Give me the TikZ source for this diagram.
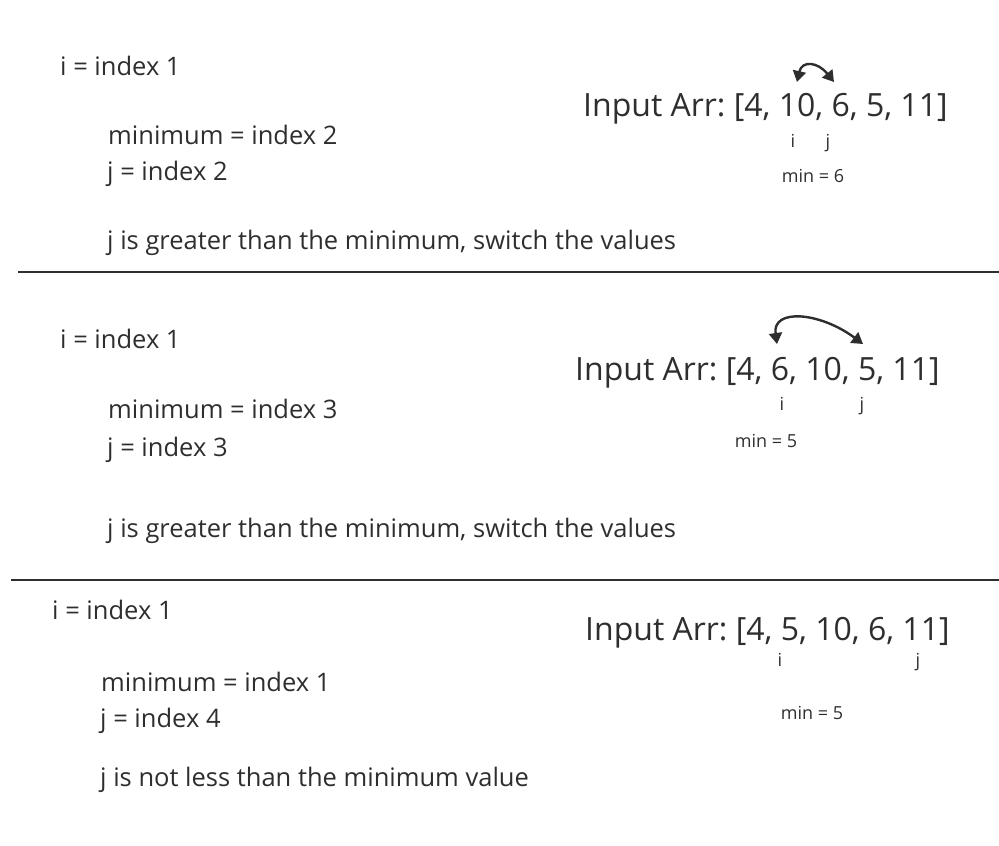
\documentclass[tikz,border=0pt]{standalone}
\usepackage{fontspec}
\setmainfont{Open Sans}
\usetikzlibrary{arrows.meta}
\definecolor{ink}{HTML}{2E2E2E}
\tikzset{
  x=1pt, y=-1pt,
  txt/.style={anchor=base west, inner sep=0pt, text=ink, font=\fontsize{25.5}{30}\selectfont},
  arr/.style={anchor=base west, inner sep=0pt, text=ink, font=\fontsize{32}{36}\selectfont},
  small/.style={anchor=base, inner sep=0pt, text=ink, font=\fontsize{18}{21}\selectfont},
  sep/.style={draw=ink, line width=2pt},
  swap/.style={draw=ink, line width=2.4pt, {Triangle[length=11pt,width=13pt]}-{Triangle[length=11pt,width=13pt]}}
}
\frenchspacing
\begin{document}
\begin{tikzpicture}
\useasboundingbox (0,0) rectangle (999,846);
% panel 1
\node[txt] (a1) at (60,75) {i = index 1};
\node[txt] (b1) at (108,144) {minimum = index 2};
\node[txt] (c1) at (107,180) {j = index 2};
\node[txt] (d1) at (107,249) {j is greater than the minimum, switch the values};
\node[arr] (e1) at (583,116) {Input Arr: [4, 10, 6, 5, 11]};
\node[small] (i1) at (793,147) {i};
\node[small] (j1) at (828,147) {j};
\node[small] (m1) at (813,182) {min = 6};
\coordinate (p1) at (797,82);
\coordinate (q1) at (834,82);
\draw[swap] (p1) .. controls (802,60) and (818,62) .. (q1);
\coordinate (l1a) at (18,272);
\coordinate (l1b) at (999,272);
\draw[sep] (l1a) -- (l1b);
% panel 2
\node[txt] (a2) at (60,348) {i = index 1};
\node[txt] (b2) at (108,418) {minimum = index 3};
\node[txt] (c2) at (107,456) {j = index 3};
\node[txt] (d2) at (107,537) {j is greater than the minimum, switch the values};
\node[arr] (e2) at (575,380) {Input Arr: [4, 6, 10, 5, 11]};
\node[small] (i2) at (782,410) {i};
\node[small] (j2) at (862,410) {j};
\node[small] (m2) at (766,447) {min = 5};
\coordinate (p2) at (777,344);
\coordinate (q2) at (863,344);
\draw[swap] (p2) .. controls (772,308) and (820,312) .. (q2);
\coordinate (l2a) at (11,580);
\coordinate (l2b) at (999,580);
\draw[sep] (l2a) -- (l2b);
% panel 3
\node[txt] (a3) at (52,619) {i = index 1};
\node[txt] (b3) at (101,691) {minimum = index 1};
\node[txt] (c3) at (100,727) {j = index 4};
\node[txt] (d3) at (100,786) {j is not less than the minimum value};
\node[arr] (e3) at (585,640) {Input Arr: [4, 5, 10, 6, 11]};
\node[small] (i3) at (780,666) {i};
\node[small] (j3) at (918,666) {j};
\node[small] (m3) at (812,719) {min = 5};
\end{tikzpicture}
\end{document}
